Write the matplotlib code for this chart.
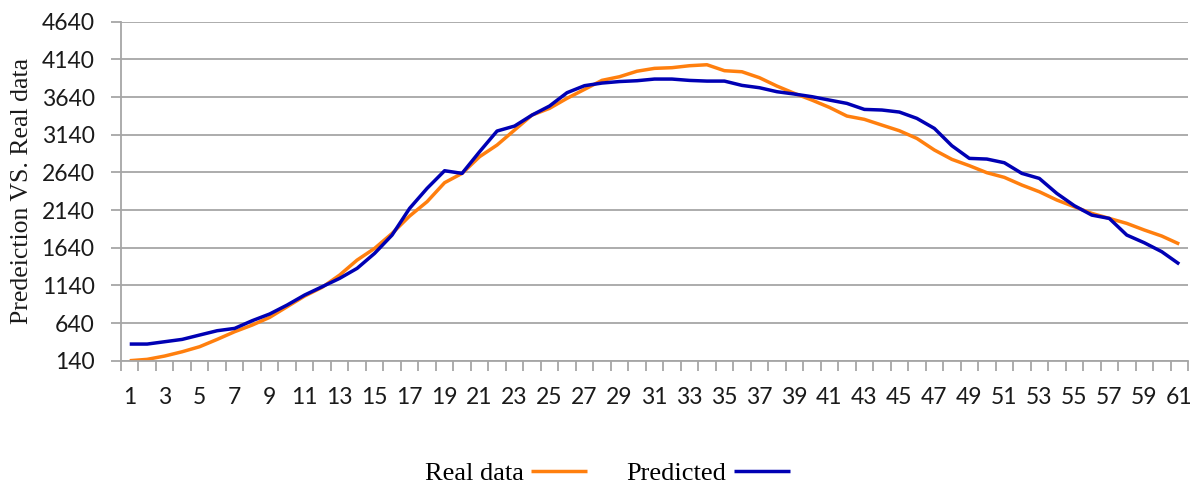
import numpy as np
import matplotlib
matplotlib.use('Agg')
from matplotlib import pyplot as plt
from matplotlib.ticker import FixedLocator

# values
days = list(range(1, 62))
real_data = [140, 158, 202, 259, 326, 423, 525, 613, 715, 857,
             998, 1114, 1277, 1476, 1631, 1830, 2060, 2251, 2503, 2627,
             2848, 3003, 3202, 3401, 3490, 3623, 3742, 3862, 3910, 3983,
             4021, 4030, 4056, 4069, 3990, 3976, 3897, 3786, 3689, 3600,
             3503, 3388, 3344, 3268, 3193, 3091, 2937, 2813, 2729, 2636,
             2574, 2472, 2383, 2273, 2184, 2096, 2029, 1963, 1875, 1795,
             1689]
predicted = [361, 361, 392, 423, 481, 538, 569, 671, 760, 879,
             1012, 1122, 1233, 1366, 1565, 1808, 2162, 2428, 2662, 2627,
             2914, 3189, 3255, 3401, 3521, 3698, 3791, 3826, 3846, 3857,
             3879, 3879, 3861, 3852, 3852, 3795, 3764, 3711, 3680, 3645,
             3600, 3556, 3476, 3468, 3441, 3357, 3224, 2994, 2826, 2817,
             2768, 2627, 2560, 2361, 2198, 2073, 2029, 1808, 1706, 1587,
             1423]
y_ticks = [140, 640, 1140, 1640, 2140, 2640, 3140, 3640, 4140, 4640]

fig = plt.figure(figsize=(12, 4.83), dpi=100)
ax = fig.add_axes([0.1008, 0.2532, 0.8892, 0.7018])

ax.plot(days, real_data, color='#ff7f0e', lw=2.5, label='Real data',
        solid_capstyle='butt')
ax.plot(days, predicted, color='#0000b4', lw=2.5, label='Predicted',
        solid_capstyle='butt')

ax.set_xlim(0.5, 61.5)
ax.set_ylim(140, 4640)

grid_col = '#a6a6a6'
ax.set_yticks(y_ticks)
ax.yaxis.grid(True, color=grid_col, lw=1.3)
ax.set_axisbelow(True)
for s in ('top', 'right'):
    ax.spines[s].set_visible(False)
for s in ('left', 'bottom'):
    ax.spines[s].set_color(grid_col)
    ax.spines[s].set_linewidth(1.3)

# category axis: labels on odd days, ticks on boundaries
ax.set_xticks(days[::2])
ax.xaxis.set_minor_locator(FixedLocator(np.arange(0.5, 62, 1.0)))
ax.tick_params(axis='x', which='major', length=0, pad=19,
               labelsize=16.5, labelfontfamily='Lato', labelcolor='#1a1a1a')
ax.tick_params(axis='x', which='minor', length=7, width=1.3, color=grid_col)
ax.tick_params(axis='y', length=7, width=1.3, color=grid_col, pad=12,
               labelsize=16.5, labelfontfamily='Lato', labelcolor='#1a1a1a')

ax.set_ylabel('Predeiction VS. Real data', family='Liberation Serif',
              fontsize=18.5, color='#1a1a1a', labelpad=6)

fig.legend(loc='center', bbox_to_anchor=(0.506, 0.02), ncol=2,
           frameon=False, markerfirst=False, handlelength=2.1,
           columnspacing=1.5, handletextpad=0.3, borderpad=0,
           prop={'family': 'Liberation Serif', 'size': 19})

fig.savefig('out.png', dpi=100)
